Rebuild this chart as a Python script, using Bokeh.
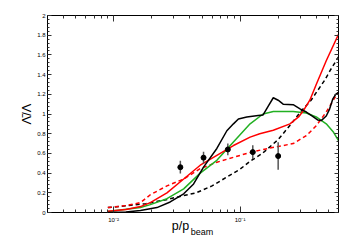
from bokeh.plotting import figure
from bokeh.models import Range1d, FixedTicker, LogAxis, LinearAxis, CustomJSTickFormatter
from bokeh.embed import file_html
from bokeh.resources import INLINE

# ---- data ----
black_x = [0.009, 0.0125, 0.0163, 0.022, 0.028, 0.0358, 0.0429, 0.0514, 0.0655, 0.0786, 0.0886,
           0.097, 0.113, 0.139, 0.152, 0.167, 0.183, 0.2, 0.219, 0.263, 0.3, 0.334, 0.37, 0.41,
           0.44, 0.48, 0.51, 0.54, 0.57, 0.6]
black_y = [0.0, 0.005, 0.02, 0.05, 0.107, 0.19, 0.29, 0.46, 0.65, 0.83, 0.90,
           0.95, 0.97, 0.985, 0.99, 1.08, 1.165, 1.14, 1.10, 1.095, 1.05, 1.02, 0.98, 0.94,
           0.935, 0.98, 1.05, 1.15, 1.2, 1.22]

blackd_x = [0.009, 0.012, 0.018, 0.026, 0.034, 0.045, 0.06, 0.0786, 0.1, 0.12, 0.15, 0.2,
            0.25, 0.3, 0.364, 0.465, 0.52, 0.6]
blackd_y = [0.05, 0.065, 0.09, 0.13, 0.165, 0.2, 0.27, 0.36, 0.44, 0.52, 0.60, 0.74,
            0.89, 1.02, 1.14, 1.34, 1.45, 1.58]

red_x = [0.009, 0.0125, 0.0163, 0.0195, 0.0264, 0.0358, 0.0484, 0.0655, 0.0886, 0.12, 0.143,
         0.183, 0.248, 0.29, 0.315, 0.356, 0.40, 0.48, 0.6]
red_y = [0.013, 0.03, 0.06, 0.10, 0.2, 0.34, 0.48, 0.58, 0.68, 0.765, 0.80,
         0.835, 0.90, 0.97, 1.03, 1.14, 1.30, 1.54, 1.81]

redd_x = [0.009, 0.0125, 0.0163, 0.0195, 0.0264, 0.0358, 0.0484, 0.0655, 0.0886, 0.12, 0.152,
          0.2, 0.263, 0.334, 0.40, 0.48, 0.576, 0.6]
redd_y = [0.05, 0.07, 0.10, 0.18, 0.27, 0.34, 0.445, 0.51, 0.56, 0.61, 0.64,
          0.67, 0.70, 0.78, 0.88, 1.02, 1.19, 1.22]

green_x = [0.009, 0.0163, 0.0195, 0.0264, 0.0358, 0.0484, 0.0655, 0.0886, 0.12, 0.152, 0.183,
           0.263, 0.334, 0.40, 0.48, 0.544, 0.6]
green_y = [0.01, 0.05, 0.08, 0.14, 0.24, 0.40, 0.53, 0.715, 0.9, 1.0, 1.025,
           1.025, 1.01, 0.97, 0.90, 0.82, 0.73]

data_x = [0.0337, 0.0514, 0.080, 0.126, 0.20]
data_y = [0.46, 0.557, 0.64, 0.613, 0.573]
data_err = [0.065, 0.06, 0.06, 0.07, 0.14]

x_major = [0.01, 0.1]
x_minor = [0.003, 0.004, 0.005, 0.006, 0.007, 0.008, 0.009,
           0.02, 0.03, 0.04, 0.05, 0.06, 0.07, 0.08, 0.09,
           0.2, 0.3, 0.4, 0.5, 0.6]
y_major = [0, 0.2, 0.4, 0.6, 0.8, 1.0, 1.2, 1.4, 1.6, 1.8, 2.0]
y_minor = [round(i * 0.04, 2) for i in range(51)]

x_label_main = "p/p"
x_label_sub = "beam"
y_label = "\u039b\u0304/\u039b"

FONT = "Liberation Sans"
GREEN = "#22b022"
RED = "#ff0000"

p = figure(width=352, height=242, x_axis_type="log",
           x_range=Range1d(0.003, 0.6), y_range=Range1d(0, 2),
           output_backend="svg", toolbar_location=None,
           min_border_left=47, min_border_right=14, min_border_top=15, min_border_bottom=30)
p.grid.visible = False
p.outline_line_color = "black"

xfmt = CustomJSTickFormatter(code="""
const e = Math.round(Math.log10(tick));
const sup = {"-":"\\u207b","0":"\\u2070","1":"\\u00b9","2":"\\u00b2","3":"\\u00b3","4":"\\u2074"};
return "10" + String(e).split("").map(c => sup[c]).join("");
""")
yfmt = CustomJSTickFormatter(code="return String(parseFloat(tick.toFixed(2)));")

def style_common(ax):
    ax.axis_line_color = "black"
    ax.major_tick_line_color = "#333333"
    ax.minor_tick_line_color = "#333333"
    ax.major_tick_out = 0
    ax.minor_tick_out = 0
    ax.major_label_text_font = FONT
    ax.major_label_text_font_size = "6px"
    ax.major_label_text_color = "black"

def style_x(ax, labels=True):
    style_common(ax)
    ax.ticker = FixedTicker(ticks=x_major, minor_ticks=x_minor)
    ax.major_tick_in = 6
    ax.minor_tick_in = 3
    ax.formatter = xfmt
    if labels:
        ax.major_label_standoff = 4
    else:
        ax.major_label_text_color = None
        ax.major_label_standoff = 0

def style_y(ax, labels=True):
    style_common(ax)
    ax.ticker = FixedTicker(ticks=y_major, minor_ticks=y_minor)
    ax.major_tick_in = 4
    ax.minor_tick_in = 2
    ax.formatter = yfmt
    if labels:
        ax.major_label_standoff = 2
    else:
        ax.major_label_text_color = None
        ax.major_label_standoff = 0

style_x(p.xaxis[0])
style_y(p.yaxis[0])
p.yaxis[0].axis_label = y_label
p.yaxis[0].axis_label_text_font = FONT
p.yaxis[0].axis_label_text_font_style = "normal"
p.yaxis[0].axis_label_text_font_size = "13px"
p.yaxis[0].axis_label_text_color = "black"
p.yaxis[0].axis_label_standoff = 0

# x label "p/p" (trailing em spaces leave room for the subscript)
bx = p.xaxis[0]
bx.axis_label = x_label_main + "\u2003\u2003"
bx.axis_label_text_font = FONT
bx.axis_label_text_font_style = "normal"
bx.axis_label_text_font_size = "12.5px"
bx.axis_label_text_color = "black"
bx.axis_label_standoff = -7

# subscript "beam" carried by a bare second axis below
sub = LogAxis(ticker=FixedTicker(ticks=[], minor_ticks=[]))
sub.axis_line_color = None
sub.major_tick_in = 0
sub.major_tick_out = 0
sub.minor_tick_in = 0
sub.minor_tick_out = 0
sub.major_label_text_font_size = "1px"
sub.major_label_text_color = None
sub.major_label_standoff = 0
sub.axis_label = "\u2003\u2003" + x_label_sub
sub.axis_label_text_font = FONT
sub.axis_label_text_font_style = "normal"
sub.axis_label_text_font_size = "9px"
sub.axis_label_text_color = "black"
sub.axis_label_standoff = -9
p.add_layout(sub, "below")

top = LogAxis()
style_x(top, labels=False)
p.add_layout(top, "above")
right = LinearAxis()
style_y(right, labels=False)
p.add_layout(right, "right")

# curves
p.line(blackd_x, blackd_y, line_color="black", line_width=1.5, line_dash="4 3")
p.line(redd_x, redd_y, line_color=RED, line_width=1.5, line_dash="4 3")
p.line(green_x, green_y, line_color=GREEN, line_width=1.5)
p.line(red_x, red_y, line_color=RED, line_width=1.5)
p.line(black_x, black_y, line_color="black", line_width=1.5)

# data points with error bars
p.segment(x0=data_x, y0=[y - e for y, e in zip(data_y, data_err)],
          x1=data_x, y1=[y + e for y, e in zip(data_y, data_err)],
          line_color="#555555", line_width=1.5)
p.scatter(data_x, data_y, size=5, color="black")

open("out.html", "w").write(file_html(p, INLINE))
